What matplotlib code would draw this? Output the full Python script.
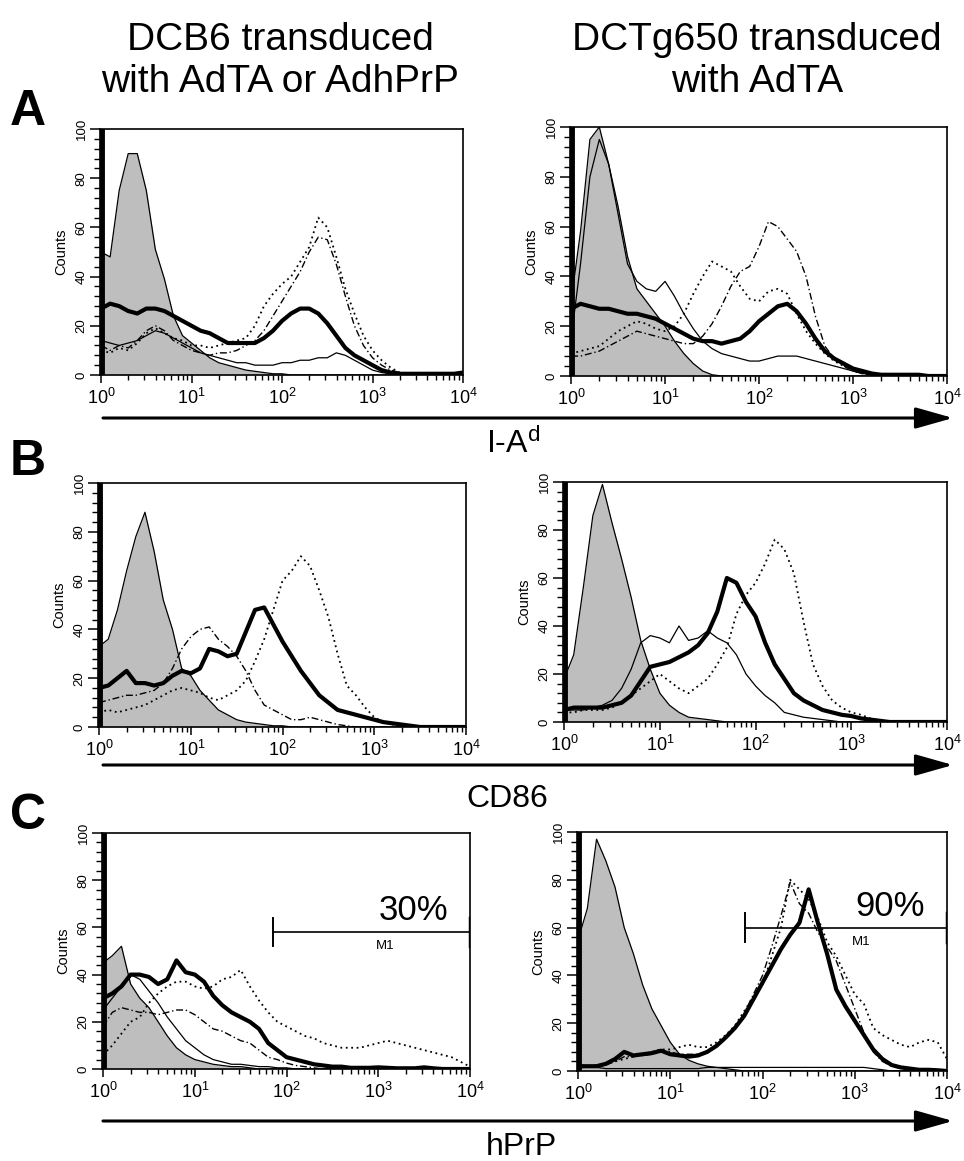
import numpy as np
import matplotlib
matplotlib.use('Agg')
import matplotlib.pyplot as plt
from matplotlib.ticker import MultipleLocator, LogLocator, FixedLocator

plt.rcParams['font.family'] = ['Liberation Sans', 'DejaVu Sans']
plt.rcParams['mathtext.fontset'] = 'custom'
plt.rcParams['mathtext.rm'] = 'Liberation Sans'
plt.rcParams['mathtext.it'] = 'Liberation Sans:italic'
plt.rcParams['mathtext.bf'] = 'Liberation Sans:bold'

# log10 fluorescence, 0.1 decade channels (10^0 .. 10^4)
log_fl = np.round(np.arange(0, 4.01, 0.1), 1)

# ---- A: I-A^d, DCB6 ----
a1_gray = [50, 48, 75, 90, 90, 75, 51, 39, 24, 16,
           13, 10, 7, 5, 4, 3, 2, 1.5, 1, 0.5,
           0.5, 0, 0, 0, 0, 0, 0, 0, 0, 0,
           0, 0, 0, 0, 0, 0, 0, 0, 0, 0, 0]
a1_thin = [14, 13, 12, 13, 14, 16, 18, 17, 15, 13,
           11, 9, 8, 7, 6, 5, 5, 4, 4, 4,
           5, 5, 6, 6, 7, 7, 9, 8, 6, 4,
           2, 1, 0.5, 0, 0, 0, 0, 0, 0, 0, 0]
a1_thick = [27, 29, 28, 26, 25, 27, 27, 26, 24, 22,
            20, 18, 17, 15, 13, 13, 13, 13, 15, 18,
            22, 25, 27, 27, 25, 21, 16, 11, 8, 6,
            4, 2, 1, 0.5, 0.5, 0.5, 0.5, 0.5, 0.5, 0.5, 1]
a1_dot = [10, 9, 11, 10, 13, 17, 19, 17, 15, 14,
          12, 12, 11, 12, 13, 14, 15, 20, 28, 33,
          37, 40, 46, 52, 64, 60, 48, 35, 25, 16,
          10, 6, 3, 1, 0.5, 0, 0, 0, 0, 0, 0]
a1_dash = [12, 10, 12, 11, 14, 18, 20, 18, 14, 12,
           10, 9, 8, 9, 9, 10, 12, 14, 18, 24,
           30, 36, 42, 50, 56, 55, 45, 32, 20, 12,
           7, 4, 2, 1, 0.5, 0, 0, 0, 0, 0, 0]

# ---- A: I-A^d, DCTg650 ----
a2_gray = [30, 58, 95, 100, 85, 68, 48, 35, 30, 25,
           20, 14, 9, 5, 2, 0.5, 0, 0, 0, 0,
           0, 0, 0, 0, 0, 0, 0, 0, 0, 0,
           0, 0, 0, 0, 0, 0, 0, 0, 0, 0, 0]
a2_thin = [15, 45, 80, 95, 85, 65, 45, 38, 35, 34,
           38, 32, 25, 19, 14, 11, 9, 8, 7, 6,
           6, 7, 8, 8, 8, 7, 6, 5, 4, 3,
           2, 1, 0.5, 0, 0, 0, 0, 0, 0, 0, 0]
a2_thick = [27, 29, 28, 27, 27, 26, 25, 25, 24, 23,
            21, 19, 17, 15, 14, 14, 13, 14, 15, 18,
            22, 25, 28, 29, 26, 21, 15, 10, 7, 5,
            3, 2, 1, 0.5, 0.5, 0.5, 0.5, 0.5, 0, 0, 0]
a2_dot = [9, 10, 11, 12, 15, 18, 20, 22, 21, 19,
          18, 20, 25, 33, 40, 46, 44, 42, 36, 31,
          30, 34, 35, 33, 25, 18, 13, 9, 6, 4,
          2, 1, 0.5, 0, 0, 0, 0, 0, 0, 0, 0]
a2_dash = [8, 8, 9, 10, 12, 14, 16, 18, 17, 16,
           15, 14, 13, 13, 16, 21, 28, 36, 42, 44,
           52, 62, 60, 55, 50, 40, 24, 12, 7, 4,
           2, 1, 0.5, 0, 0, 0, 0, 0, 0, 0, 0]

# ---- B: CD86, DCB6 ----
b1_gray = [33, 36, 48, 64, 78, 88, 72, 52, 40, 24,
           21, 15, 11, 7, 5, 3, 2, 1.5, 1, 0.5,
           0.5, 0, 0, 0, 0, 0, 0, 0, 0, 0,
           0, 0, 0, 0, 0, 0, 0, 0, 0, 0, 0]
b1_thick = [16, 17, 20, 23, 18, 18, 17, 18, 21, 23,
            22, 24, 32, 31, 29, 30, 39, 48, 49, 42,
            35, 29, 23, 18, 13, 10, 7, 6, 5, 4,
            3, 2, 1.5, 1, 0.5, 0, 0, 0, 0, 0, 0]
b1_dot = [6, 7, 6, 7, 8, 9, 11, 13, 15, 16,
          15, 14, 12, 11, 13, 15, 19, 27, 36, 48,
          60, 64, 70, 66, 56, 45, 30, 17, 13, 8,
          4, 2, 1, 0.5, 0, 0, 0, 0, 0, 0, 0]
b1_dash = [10, 11, 12, 13, 13, 14, 15, 18, 24, 32,
           37, 40, 41, 36, 33, 29, 23, 15, 9, 7,
           5, 3, 3, 4, 3, 2, 1, 0.5, 0, 0,
           0, 0, 0, 0, 0, 0, 0, 0, 0, 0, 0]

# ---- B: CD86, DCTg650 ----
b2_gray = [18, 28, 56, 86, 99, 83, 68, 52, 34, 22,
           12, 7, 4, 2, 1.5, 1, 0.5, 0, 0, 0,
           0, 0, 0, 0, 0, 0, 0, 0, 0, 0,
           0, 0, 0, 0, 0, 0, 0, 0, 0, 0, 0]
b2_thin = [5, 5, 5, 6, 7, 9, 14, 22, 33, 36,
           35, 33, 40, 34, 35, 38, 35, 33, 28, 20,
           15, 11, 8, 4, 3, 2, 1.5, 1, 0.5, 0,
           0, 0, 0, 0, 0, 0, 0, 0, 0, 0, 0]
b2_thick = [5, 6, 6, 6, 6, 7, 8, 11, 17, 23,
            24, 25, 27, 29, 32, 37, 46, 60, 58, 50,
            44, 33, 24, 18, 12, 9, 7, 5, 4, 3,
            2.5, 1.5, 1, 0.5, 0, 0, 0, 0, 0, 0, 0]
b2_dot = [4, 4, 5, 5, 5, 6, 8, 11, 14, 17,
          20, 17, 14, 12, 15, 18, 24, 31, 45, 53,
          58, 66, 76, 72, 62, 42, 24, 15, 9, 6,
          4, 3, 1.5, 0.5, 0, 0, 0, 0, 0, 0, 0]

# ---- C: hPrP, DCB6 ----
c1_gray = [45, 48, 52, 36, 30, 26, 20, 14, 9, 6,
           4, 3, 2, 1.5, 1, 1, 0.5, 0, 0, 0,
           0, 0, 0, 0, 0, 0, 0, 0, 0, 0,
           0, 0, 0, 0, 0, 0, 0, 0, 0, 0, 0]
c1_thin = [25, 30, 35, 40, 38, 33, 28, 22, 17, 12,
           9, 6, 4, 3, 2, 2, 1.5, 1, 1, 0.5,
           0.5, 0, 0, 0, 0, 0, 0, 0, 0, 0,
           0, 0, 0, 0, 0, 0, 0, 0, 0, 0, 0]
c1_thick = [30, 32, 35, 40, 40, 39, 36, 38, 46, 41,
            40, 37, 31, 27, 24, 22, 20, 17, 11, 8,
            5, 4, 3, 2, 1.5, 1, 1, 0.5, 0.5, 0.5,
            0.7, 0.5, 0.3, 0.3, 0.3, 0.7, 0.3, 0, 0, 0, 0]
c1_dot = [6, 10, 15, 20, 22, 28, 32, 35, 37, 37,
          35, 34, 35, 38, 39, 42, 35, 29, 24, 20,
          18, 16, 14, 13, 11, 10, 9, 9, 9, 10,
          11, 12, 11, 10, 9, 8, 7, 6, 5, 3, 1]
c1_dash = [18, 24, 26, 25, 24, 24, 23, 24, 25, 25,
           23, 20, 17, 16, 14, 12, 11, 8, 5, 4,
           2.5, 1.5, 1, 0.5, 0, 0, 0, 0, 0, 0,
           0, 0, 0, 0, 0, 0, 0, 0, 0, 0, 0]

# ---- C: hPrP, DCTg650 ----
c2_gray = [55, 68, 97, 88, 77, 60, 49, 36, 26, 19,
           12, 7, 4.5, 3, 2, 1.5, 1, 0.5, 0, 0,
           0, 0, 0, 0, 0, 0, 0, 0, 0, 0,
           0, 0, 0, 0, 0, 0, 0, 0, 0, 0, 0]
c2_thin = [3, 2, 1.5, 1, 1, 1, 1, 1, 1, 1,
           1, 1, 1, 1, 1.5, 1.5, 1.5, 1.5, 1.5, 1.5,
           1.5, 1.5, 1.5, 1.5, 1.5, 1.5, 1.5, 1.5, 1.5, 1.5,
           1.5, 1.5, 1, 0.5, 0, 0, 0, 0, 0, 0, 0]
c2_thick = [2, 2, 2, 3, 5, 8, 6.5, 7, 7.5, 8.5,
            7, 6.5, 6, 6.5, 8, 10.5, 14, 18, 23, 30,
            37, 44, 51, 57, 62, 76, 62, 49, 34, 27,
            21, 15, 9, 5, 2.5, 1.5, 1, 0.5, 0.5, 0.3, 0]
c2_dot = [2, 2, 2.5, 3, 4, 5, 6, 7, 8, 9,
          9, 10, 11, 10, 10, 12, 15, 19, 25, 31,
          36, 48, 60, 80, 76, 72, 64, 54, 48, 40,
          32, 28, 18, 15, 13, 11, 10, 12, 13, 12, 5]
c2_dash = [1.5, 1.5, 2, 2.5, 4, 6, 6, 6.5, 7, 8,
           8, 7, 7, 7, 8, 11, 14, 18, 24, 32,
           40, 52, 65, 79, 70, 66, 58, 52, 46, 36,
           26, 16, 8, 4, 2, 1, 0.5, 0, 0, 0, 0]

# M1 gate (lower bound, height) and percent positive
gate_c1 = (72, 58, '30%')
gate_c2 = (65, 60, '90%')

panels = {
    'a1': dict(gray=a1_gray, thin=a1_thin, thick=a1_thick, dot=a1_dot, dash=a1_dash),
    'a2': dict(gray=a2_gray, thin=a2_thin, thick=a2_thick, dot=a2_dot, dash=a2_dash),
    'b1': dict(gray=b1_gray, thick=b1_thick, dot=b1_dot, dash=b1_dash),
    'b2': dict(gray=b2_gray, thin=b2_thin, thick=b2_thick, dot=b2_dot),
    'c1': dict(gray=c1_gray, thin=c1_thin, thick=c1_thick, dot=c1_dot, dash=c1_dash),
    'c2': dict(gray=c2_gray, thin=c2_thin, thick=c2_thick, dot=c2_dot, dash=c2_dash),
}

W, H = 964, 1161
boxes = {  # x0, x1, ytop, ybottom in pixels
    'a1': (100, 463, 129, 375), 'a2': (570, 947, 127, 376),
    'b1': (98, 466, 483, 727), 'b2': (563, 947, 482, 722),
    'c1': (102, 470, 833, 1069), 'c2': (577, 947, 832, 1071),
}

fig = plt.figure(figsize=(W / 100, H / 100), dpi=100)

ov = fig.add_axes([0, 0, 1, 1], zorder=-1)
ov.set_xlim(0, W)
ov.set_ylim(H, 0)
ov.axis('off')

x = 10 ** log_fl

for key, curves in panels.items():
    x0, x1, y0, y1 = boxes[key]
    ax = fig.add_axes([x0 / W, 1 - y1 / H, (x1 - x0) / W, (y1 - y0) / H])
    ax.set_xscale('log')
    ax.set_xlim(10 ** -0.012, 1e4)
    ax.set_ylim(0, 100)

    ax.fill_between(x, curves['gray'], color='#bebebe', lw=0, zorder=1)
    ax.plot(x, curves['gray'], color='k', lw=0.9, zorder=2)
    if 'thin' in curves:
        ax.plot(x, curves['thin'], color='k', lw=0.9, zorder=3)
    if 'dash' in curves:
        ax.plot(x, curves['dash'], color='k', lw=1.0, ls=(0, (5, 2, 1, 2)), zorder=3)
    if 'dot' in curves:
        ax.plot(x, curves['dot'], color='k', lw=1.3, ls=(0, (1, 2)), zorder=3)
    ax.plot(x, curves['thick'], color='k', lw=3.0, zorder=4)
    ax.axvline(10 ** 0.008, color='k', lw=3.5, zorder=5)

    for s in ax.spines.values():
        s.set_linewidth(1.2)
    ax.yaxis.set_major_locator(FixedLocator([0, 20, 40, 60, 80, 100]))
    ax.yaxis.set_minor_locator(MultipleLocator(4))
    ax.xaxis.set_major_locator(LogLocator(base=10, numticks=10))
    ax.xaxis.set_minor_locator(LogLocator(base=10, subs=np.arange(2, 10), numticks=20))
    ax.tick_params(axis='y', which='major', length=7, width=1.1, labelsize=9.5,
                   labelrotation=90, pad=2)
    ax.tick_params(axis='y', which='minor', length=4, width=1.0)
    ax.tick_params(axis='x', which='major', length=6, width=1.1, labelsize=13, pad=3)
    ax.tick_params(axis='x', which='minor', length=3.5, width=1.0)
    for lab in ax.get_yticklabels():
        lab.set_va('center')
    ax.set_ylabel('Counts', fontsize=10.5, labelpad=5)

    if key in ('c1', 'c2'):
        lo, yg, pct = gate_c1 if key == 'c1' else gate_c2
        ax.plot([lo, 1e4], [yg, yg], color='k', lw=1.2, zorder=6)
        ax.plot([lo, lo], [yg - 6, yg + 6], color='k', lw=1.4, zorder=6)
        ax.plot([10 ** 3.995, 10 ** 3.995], [yg - 6, yg + 6], color='k', lw=2.5, zorder=6)
        ax.text(10 ** 3.76, yg + 5, pct, ha='right', va='baseline', fontsize=25, zorder=7)
        ax.text(10 ** 3.07, yg - 6, 'M1', ha='center', va='center', fontsize=9.5, zorder=7)

# column titles
ov.text(280, 50, 'DCB6 transduced', ha='center', va='baseline', fontsize=28)
ov.text(280, 92, 'with AdTA or AdhPrP', ha='center', va='baseline', fontsize=28)
ov.text(757, 50, 'DCTg650 transduced', ha='center', va='baseline', fontsize=28)
ov.text(757, 92, 'with AdTA', ha='center', va='baseline', fontsize=28)

# panel letters
ov.text(10, 125, 'A', ha='left', va='baseline', fontsize=36, fontweight='bold')
ov.text(10, 475, 'B', ha='left', va='baseline', fontsize=36, fontweight='bold')
ov.text(10, 829, 'C', ha='left', va='baseline', fontsize=36, fontweight='bold')

# shared axis arrows and labels
for y_arrow, label, lx, ly in [(418, r'I-A$^{\mathrm{d}}$', 513, 453),
                               (765, 'CD86', 507, 807),
                               (1121, 'hPrP', 521, 1155)]:
    ov.annotate('', xy=(953, y_arrow), xytext=(103, y_arrow),
                arrowprops=dict(arrowstyle='-|>,head_length=2.3,head_width=0.65',
                                mutation_scale=10, lw=2.2, color='k',
                                shrinkA=0, shrinkB=0))
    ov.text(lx, ly, label, ha='center', va='baseline', fontsize=23)

fig.savefig('out.png', dpi=100)
